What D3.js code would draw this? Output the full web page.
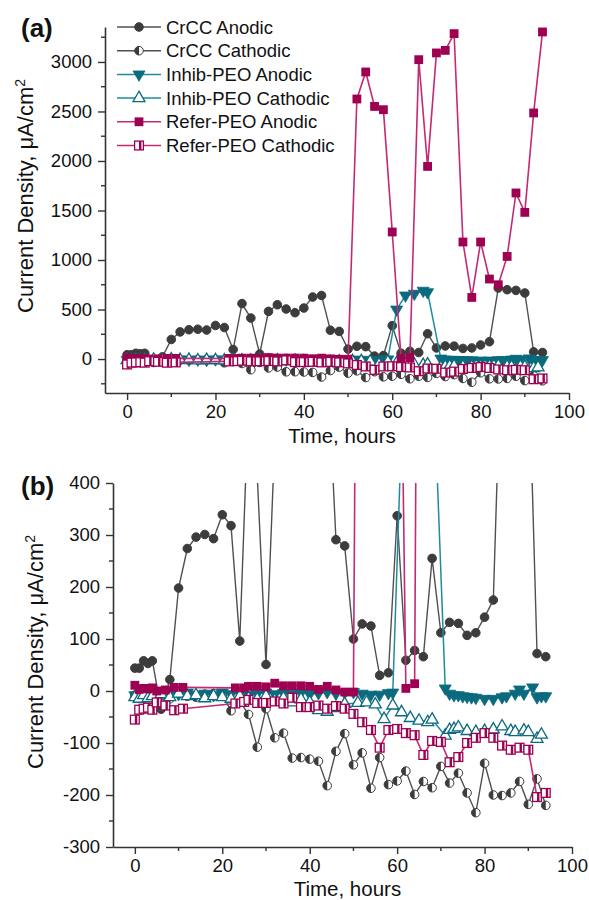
<!DOCTYPE html>
<html>
<head>
<meta charset="utf-8">
<script src="https://cdn.jsdelivr.net/npm/d3@7"></script>
<style>
  body { margin: 0; background: #fff; }
  svg { display: block; font-family: "Liberation Sans", Arial, sans-serif; }
</style>
</head>
<body>
<div id="chart"></div>
<script>
// time axis (hours) for each series group
var timeCrCC = [0,1,2,3,4,6,8,10,12,14,16,18,20,22,24,26,28,30,32,34,36,38,40,42,44,46,48,50,52,54,56,58,60,62,64,66,68,70,72,74,76,78,80,82,84,86,88,90,92,94];
var crccAnodic = [44,44,58,53,58,-35,22,198,274,296,301,293,339,318,96,560,414,51,481,548,505,468,515,626,642,291,279,100,129,125,30,35,337,59,78,66,255,112,132,130,107,112,142,175,717,700,693,667,72,66];
var crccCathodic = [-8,-10,-5,-5,-8,-30,-15,-5,-10,-12,-6,-5,-8,-38,-20,-45,-108,-34,-90,-81,-129,-128,-131,-135,-182,-116,-82,-142,-119,-187,-128,-180,-173,-154,-199,-174,-186,-145,-177,-158,-196,-234,-139,-200,-201,-196,-174,-218,-169,-220];

var timeInhibAn = [0,1,2,3,4,6,8,10,12,14,16,18,20,22,24,26,28,30,32,34,36,38,40,42,44,46,48,50,52,54,56,58,59,61,63,65,67,68,71,72,73,74,75,76,77,78,80,82,84,85,87,88,89,91,92,93,94];
var inhibAnodic = [-8,-10,-6,-9,-5,-8,-4,-6,-3,-7,-5,-8,-3,-6,-4,-7,-5,-3,-6,-4,-5,-3,-6,-4,-2,-5,-3,-2,-5,-7,-7,-4,-3,500,642,660,690,675,5,-5,-8,-8,-10,-11,-12,-13,-15,-15,-12,-10,-5,3,-5,7,-12,-10,-10];

var timeInhibCa = [0,1,2,3,4,6,8,10,12,14,16,18,20,22,24,26,28,30,32,34,36,38,40,42,44,46,48,51,53,55,57,59,61,63,65,67,68,71,72,73,74,76,78,80,82,84,86,87,89,90,92,93];
var inhibCathodic = [-12,-15,-8,-14,-10,-6,-12,-5,-10,-8,-14,-10,-12,-15,-10,-14,-16,-10,-18,-14,-22,-16,-22,-37,-40,-33,-25,-23,-22,-26,-54,-28,-41,-52,-57,-60,-55,-86,-75,-73,-70,-77,-79,-77,-74,-68,-77,-79,-76,-79,-92,-84];

var timeRefer = [0,1,2,3,4,5,7,9,11,23,25,26,28,30,32,34,36,38,40,42,44,46,48,50,52,54,56,58,60,62,64,66,68,70,72,74,76,78,80,82,84,86,88,90,92,94];
var referAnodic = [11,3,5,4,6,0,2,7,7,6,6,9,9,8,15,10,10,10,9,3,9,2,-2,-2,2626,2899,2551,2518,1283,5,14,3023,1945,3091,3117,3286,1182,622,1182,808,750,1036,1677,1481,2485,3303];
var referCathodic = [-55,-36,-34,-32,-36,-22,-28,-37,-34,-24,-21,-17,-23,-23,-20,-24,-13,-31,-31,-28,-34,-29,-34,-44,-60,-75,-109,-75,-73,-81,-85,-123,-96,-98,-137,-127,-100,-90,-81,-90,-105,-113,-109,-113,-204,-196];

var seriesNames = ["CrCC Anodic","CrCC Cathodic","Inhib-PEO Anodic","Inhib-PEO Cathodic","Refer-PEO Anodic","Refer-PEO Cathodic"];
var xTicks = [0,20,40,60,80,100];
var yTicksA = [0,500,1000,1500,2000,2500,3000];
var yTicksB = [-300,-200,-100,0,100,200,300,400];

var W = 589, H = 900;
var gray = {line: "#505050", mark: "#3c3c3c"};
var teal = {line: "#1f8b9e", mark: "#0a6a7e"};
var mag = {line: "#c42a72", mark: "#9e0052"};

function zip(t, v) {
    return t.map(function (d, i) { return {x: d, y: v[i]}; });
}

var series = [
    {name: seriesNames[0], data: zip(timeCrCC, crccAnodic), col: gray, mk: "circle", half: false, lw: 1.4},
    {name: seriesNames[1], data: zip(timeCrCC, crccCathodic), col: gray, mk: "circle", half: true, lw: 1.4},
    {name: seriesNames[2], data: zip(timeInhibAn, inhibAnodic), col: teal, mk: "down", half: false, lw: 1.5},
    {name: seriesNames[3], data: zip(timeInhibCa, inhibCathodic), col: teal, mk: "up", half: true, lw: 1.5},
    {name: seriesNames[4], data: zip(timeRefer, referAnodic), col: mag, mk: "square", half: false, lw: 1.6},
    {name: seriesNames[5], data: zip(timeRefer, referCathodic), col: mag, mk: "square", half: true, lw: 1.6}
];

var svg = d3.select("#chart").append("svg").attr("width", W).attr("height", H);

function drawMarker(g, s) {
    var c = s.col.mark;
    if (s.mk == "circle") {
        var r = 4.3;
        g.append("circle").attr("r", r).attr("fill", s.half ? "#fff" : c).attr("stroke", c).attr("stroke-width", 1);
        if (s.half) g.append("path").attr("d", "M0," + (-r) + "A" + r + "," + r + " 0 0 0 0," + r + "Z").attr("fill", c);
    } else if (s.mk == "square") {
        var a = 4.4;
        g.append("rect").attr("x", -a).attr("y", -a).attr("width", 2 * a).attr("height", 2 * a)
            .attr("fill", s.half ? "#fff" : c).attr("stroke", c).attr("stroke-width", s.half ? 1.3 : 0);
        if (s.half) g.append("rect").attr("x", 0).attr("y", -a).attr("width", a * 0.55).attr("height", 2 * a).attr("fill", c);
    } else {
        var tri = d3.symbol().type(d3.symbolTriangle).size(62)();
        g.append("path").attr("d", tri)
            .attr("transform", s.mk == "down" ? "rotate(180)" : null)
            .attr("fill", s.half ? "#fff" : c).attr("stroke", c).attr("stroke-width", s.half ? 1.3 : 0.8);
    }
}

// plain integer labels with a hyphen minus, like the original
var fmt = function (d) { return String(d); };

function panel(p) {
    var x = d3.scaleLinear().domain([-5, 100]).range([p.left, p.right]);
    var y = d3.scaleLinear().domain(p.yDomain).range([p.bottom, p.top]);

    var clipId = "clip" + p.id;
    svg.append("clipPath").attr("id", clipId).append("rect")
        .attr("x", p.left).attr("y", p.top).attr("width", p.right - p.left).attr("height", p.bottom - p.top);

    var plot = svg.append("g").attr("clip-path", "url(#" + clipId + ")");
    var line = d3.line().x(function (d) { return x(d.x); }).y(function (d) { return y(d.y); });

    series.forEach(function (s) {
        var g = plot.append("g");
        g.append("path").attr("d", line(s.data)).attr("fill", "none")
            .attr("stroke", s.col.line).attr("stroke-width", s.lw);
        g.selectAll("g.m").data(s.data).enter().append("g").attr("class", "m")
            .attr("transform", function (d) { return "translate(" + x(d.x) + "," + y(d.y) + ")"; })
            .each(function () { drawMarker(d3.select(this), s); });
    });

    // x axis
    var xMinor = d3.range(10, 100, 20);
    var xa = svg.append("g").attr("transform", "translate(0," + p.bottom + ")");
    xa.call(d3.axisBottom(x).tickValues(xTicks).tickFormat(fmt).tickSize(7).tickPadding(5).tickSizeOuter(0));
    xa.selectAll("g.minor").data(xMinor).enter().append("line").attr("class", "minor")
        .attr("x1", function (d) { return x(d); }).attr("x2", function (d) { return x(d); })
        .attr("y1", 0).attr("y2", 4).attr("stroke", "#333").attr("stroke-width", 1.4);

    var ya = svg.append("g").attr("transform", "translate(" + p.left + ",0)");
    ya.call(d3.axisLeft(y).tickValues(p.yTicks).tickFormat(fmt).tickSize(7).tickPadding(6).tickSizeOuter(0));
    ya.selectAll("g.minor").data(p.yMinor).enter().append("line").attr("class", "minor")
        .attr("y1", function (d) { return y(d); }).attr("y2", function (d) { return y(d); })
        .attr("x1", 0).attr("x2", -4).attr("stroke", "#333").attr("stroke-width", 1.4);

    [xa, ya].forEach(function (a) {
        a.select(".domain").attr("stroke", "#333").attr("stroke-width", 1.6);
        a.selectAll(".tick line").attr("stroke", "#333").attr("stroke-width", 1.4);
        a.selectAll(".tick text").attr("fill", "#111").style("font-size", "18.5px").style("font-family", "Liberation Sans, Arial");
    });

    svg.append("text").attr("x", (x(0) + x(100)) / 2 - 6).attr("y", p.xTitleY)
        .attr("text-anchor", "middle").style("font-size", "20.5px").attr("fill", "#111").text("Time, hours");

    var yt = svg.append("text").attr("transform", "translate(" + p.yTitleX + "," + p.yTitleMid + ") rotate(-90)")
        .attr("text-anchor", "middle").style("font-size", "22px").attr("fill", "#111");
    yt.append("tspan").text("Current Density, \u03bcA/cm");
    yt.append("tspan").attr("dy", -8).style("font-size", "14px").text("2");

    svg.append("text").attr("x", 21).attr("y", p.labelY).style("font-size", "26px").style("font-weight", "bold")
        .attr("fill", "#111").text(p.label);
}

panel({id: "a", left: 105, right: 569, top: 27, bottom: 393, yDomain: [-343, 3353],
    yTicks: yTicksA, yMinor: d3.range(-250, 3300, 500),
    xTitleY: 443, yTitleX: 33, yTitleMid: 196, label: "(a)", labelY: 37});

panel({id: "b", left: 113, right: 572, top: 483, bottom: 847, yDomain: [-300, 400],
    yTicks: yTicksB, yMinor: d3.range(-250, 400, 100),
    xTitleY: 895.5, yTitleX: 43, yTitleMid: 652, label: "(b)", labelY: 495});

// legend in panel (a)
var leg = svg.append("g");
series.forEach(function (s, i) {
    var cy = 27 + i * 23.7;
    leg.append("line").attr("x1", 117).attr("x2", 161).attr("y1", cy).attr("y2", cy)
        .attr("stroke", s.col.line).attr("stroke-width", s.lw);
    drawMarker(leg.append("g").attr("transform", "translate(139," + cy + ")"), s);
    leg.append("text").attr("x", 166).attr("y", cy + 6.6).style("font-size", "18.5px").attr("fill", "#111").text(s.name);
});
</script>
</body>
</html>
